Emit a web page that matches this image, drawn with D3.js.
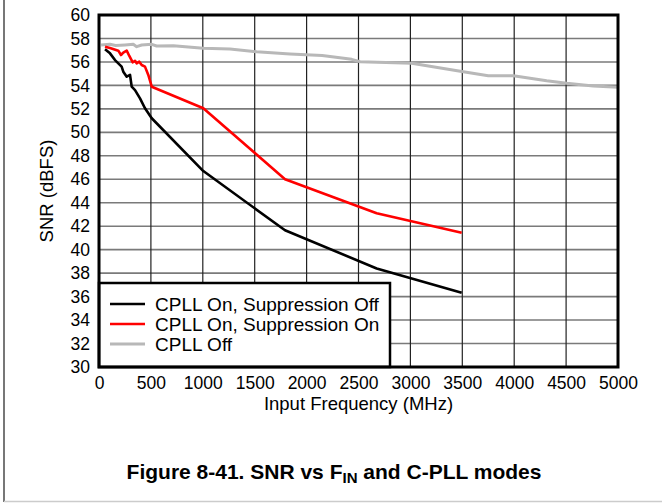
<!DOCTYPE html>
<html><head><meta charset="utf-8">
<script src="https://cdn.jsdelivr.net/npm/d3@7"></script>
<style>
html,body{margin:0;padding:0;background:#fff;}
svg{display:block;font-family:"Liberation Sans",Arial,sans-serif;}
</style></head>
<body>
<script>
// ---- data ----
const xTicks = [0,500,1000,1500,2000,2500,3000,3500,4000,4500,5000];
const yTicks = [30,32,34,36,38,40,42,44,46,48,50,52,54,56,58,60];

const freqSupOff = [58,106,154,186,218,234,267,299,315,347,395,443,508,1005,1792,2675,3494];
const snrSupOff  = [57.08,56.73,56.16,55.88,55.6,55.17,54.74,54.89,53.89,53.6,52.9,52.05,51.2,46.7,41.65,38.4,36.33];

const freqSupOn = [58,106,186,212,234,267,292,325,347,363,388,411,443,475,508,1005,1792,2675,3494];
const snrSupOn  = [57.3,57.19,56.96,56.59,56.79,56.96,56.51,55.97,56.1,55.88,56.02,55.74,55.6,54.89,53.89,52.05,46.0,43.1,41.45];

const freqPllOff = [20,106,160,250,330,363,411,508,555,716,1005,1262,1519,1840,2150,2434,2515,3012,3510,3750,3992,4313,4506,4762,5000];
const snrPllOff  = [57.44,57.5,57.4,57.45,57.5,57.3,57.44,57.5,57.36,57.38,57.16,57.1,56.87,56.68,56.55,56.22,56.02,55.88,55.17,54.83,54.83,54.4,54.18,53.95,53.84];

const seriesNames = ["CPLL On, Suppression Off","CPLL On, Suppression On","CPLL Off"];
const seriesColors = ["#000000","#ff0000","#b8b8b8"];

// ---- layout ----
const W = 662, H = 503;
const L = 99, R = 618, T = 15, B = 367;
const svg = d3.select("body").append("svg").attr("width",W).attr("height",H);

// outer frame
svg.append("line").attr("x1",4).attr("x2",4).attr("y1",0).attr("y2",502).attr("stroke","#777").attr("stroke-width",2);
svg.append("line").attr("x1",4).attr("x2",W).attr("y1",501.5).attr("y2",501.5).attr("stroke","#ccc").attr("stroke-width",1.5);

const x = d3.scaleLinear().domain([0,5000]).range([L,R]);
const y = d3.scaleLinear().domain([30,60]).range([B,T]);

// grid
svg.append("g").selectAll("line").data(yTicks).join("line")
  .attr("x1",L).attr("x2",R).attr("y1",d=>y(d)).attr("y2",d=>y(d))
  .attr("stroke","#7a7a7a").attr("stroke-width",1.6);
svg.append("g").selectAll("line").data(xTicks).join("line")
  .attr("y1",T).attr("y2",B).attr("x1",d=>x(d)).attr("x2",d=>x(d))
  .attr("stroke","#222").attr("stroke-width",1.2);

// axes (labels only)
const xAxis = svg.append("g").attr("transform",`translate(0,${B+7})`)
  .call(d3.axisBottom(x).tickValues(xTicks).tickSize(0).tickFormat(d3.format("d")));
const yAxis = svg.append("g").attr("transform",`translate(${L-9},0)`)
  .call(d3.axisLeft(y).tickValues(yTicks).tickSize(0).tickFormat(d3.format("d")));
[xAxis,yAxis].forEach(a=>{
  a.select(".domain").remove();
  a.selectAll("text").attr("font-family","Liberation Sans, Arial, sans-serif").attr("font-size",17.5).attr("fill","#000");
});
yAxis.selectAll("text").attr("x",0);

// lines
const seriesF = [freqSupOff,freqSupOn,freqPllOff];
const seriesV = [snrSupOff,snrSupOn,snrPllOff];
const order = [2,0,1];
const widths = [2.6,2.6,3];
const line = d3.line().x(d=>x(d[0])).y(d=>y(d[1]));
order.forEach(i=>{
  const pts = seriesF[i].map((f,j)=>[f,seriesV[i][j]]);
  svg.append("path").attr("d",line(pts)).attr("fill","none")
    .attr("stroke",seriesColors[i]).attr("stroke-width",widths[i]).attr("stroke-linejoin","round");
});

// legend
const lg = svg.append("g");
lg.append("rect").attr("x",L).attr("y",283).attr("width",390-L).attr("height",B-283)
  .attr("fill","#fff").attr("stroke","#000").attr("stroke-width",2.5);
const rowY = [304,324,344];
seriesNames.forEach((n,i)=>{
  lg.append("line").attr("x1",110).attr("x2",145).attr("y1",rowY[i]).attr("y2",rowY[i])
    .attr("stroke",seriesColors[i]).attr("stroke-width",i===2?3:2.6);
  lg.append("text").attr("x",155).attr("y",rowY[i]+6.5).attr("font-size",19).text(n);
});

// plot border
svg.append("rect").attr("x",L).attr("y",T).attr("width",R-L).attr("height",B-T)
  .attr("fill","none").attr("stroke","#000").attr("stroke-width",3);

// axis titles
svg.append("text").attr("x",(L+R)/2).attr("y",410).attr("text-anchor","middle").attr("font-size",18.5).text("Input Frequency (MHz)");
svg.append("text").attr("transform",`translate(53,${(T+B)/2}) rotate(-90)`).attr("text-anchor","middle").attr("font-size",18.5).text("SNR (dBFS)");

// caption
const cap = svg.append("text").attr("x",334).attr("y",479).attr("text-anchor","middle")
  .attr("font-size",21).attr("font-weight","bold");
cap.append("tspan").text("Figure 8-41. SNR vs F");
cap.append("tspan").attr("font-size",15).attr("dy",4).text("IN");
cap.append("tspan").attr("dy",-4).text(" and C-PLL modes");
</script>
</body></html>
